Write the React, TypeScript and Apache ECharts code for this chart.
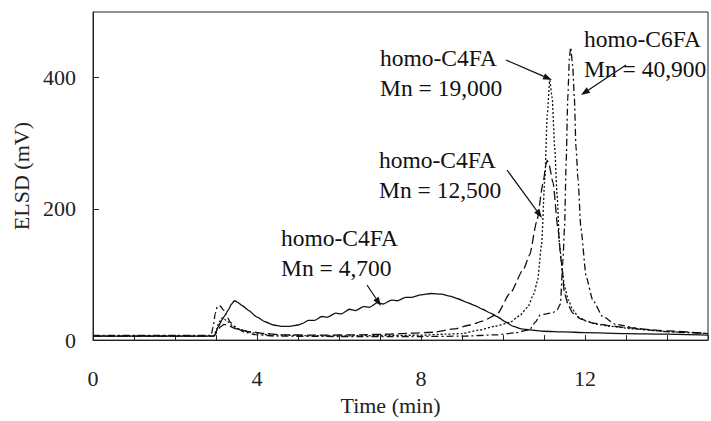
import React, { useEffect, useRef } from "react";
import * as echarts from "echarts";

// Time (min), ELSD (mV)
const c4fa4700: [number, number][] = [
  [0, 6], [2.9, 6], [2.98, 8], [3.05, 20], [3.15, 31], [3.22, 38], [3.3, 46], [3.38, 55], [3.45, 60],
  [3.52, 58], [3.65, 52], [3.8, 45], [4.0, 35], [4.2, 28], [4.4, 23], [4.6, 21], [4.8, 21], [5.0, 23],
  [5.1, 25], [5.25, 30], [5.4, 30], [5.58, 36], [5.72, 35], [5.92, 41], [6.06, 40], [6.26, 47], [6.4, 45],
  [6.6, 51], [6.74, 50], [6.94, 57], [7.08, 55], [7.28, 61], [7.42, 60], [7.62, 65], [7.76, 65], [8.0, 69],
  [8.25, 71], [8.5, 70], [8.7, 67], [8.9, 63], [9.1, 58], [9.3, 53], [9.5, 47], [9.7, 41], [9.85, 36],
  [10.05, 28], [10.25, 21], [10.45, 17], [10.65, 15.5], [11.0, 13.5], [11.5, 12.5], [12.0, 11.5],
  [13.0, 10], [14.0, 9], [15, 7.5],
];

const c4fa12500: [number, number][] = [
  [0, 6], [2.95, 6], [3.02, 12], [3.1, 20], [3.2, 24], [3.3, 22], [3.5, 17], [3.8, 13], [4.2, 10],
  [4.6, 8], [5.5, 7.5], [6.5, 8], [7.2, 9], [7.8, 10.5], [8.3, 12], [8.8, 17], [9.2, 23], [9.5, 29],
  [9.85, 39], [10.17, 71], [10.5, 108], [10.65, 130], [10.82, 180], [10.98, 240], [11.05, 268],
  [11.08, 274], [11.12, 268], [11.22, 240], [11.34, 170], [11.42, 120], [11.5, 71], [11.6, 52],
  [11.7, 41], [11.9, 32], [12.2, 26], [12.6, 22], [13.0, 19], [14.0, 14], [15, 10],
];

const c4fa19000: [number, number][] = [
  [0, 6], [2.95, 6], [3.0, 14], [3.08, 28], [3.15, 34], [3.25, 30], [3.4, 22], [3.6, 16], [3.9, 11],
  [4.3, 8], [5, 7], [6, 6.5], [7, 7], [8, 7.5], [8.6, 9], [9.0, 10], [9.4, 15], [9.8, 21], [10.17, 27],
  [10.4, 37], [10.6, 50], [10.75, 70], [10.84, 90], [10.94, 145], [11.02, 245], [11.08, 344],
  [11.14, 396], [11.2, 369], [11.26, 294], [11.32, 220], [11.38, 145], [11.45, 105], [11.5, 81],
  [11.6, 60], [11.7, 46], [11.85, 35], [12.03, 29], [12.3, 24], [12.6, 21], [13.2, 17], [14, 13], [15, 10],
];

const c6fa40900: [number, number][] = [
  [0, 7], [2.88, 7], [2.93, 20], [2.98, 40], [3.03, 51], [3.1, 52], [3.18, 46], [3.25, 38], [3.35, 27],
  [3.5, 18], [3.7, 12], [4.0, 8], [4.5, 6], [6, 5.5], [8, 5.5], [9, 6], [9.85, 8], [10.3, 11],
  [10.65, 16], [10.8, 28], [10.9, 38], [11.06, 40], [11.22, 42], [11.32, 46], [11.4, 55], [11.46, 120],
  [11.5, 170], [11.54, 270], [11.58, 369], [11.62, 430], [11.65, 446], [11.7, 418], [11.74, 369],
  [11.78, 294], [11.83, 245], [11.9, 170], [12.03, 96], [12.19, 61], [12.43, 36], [12.75, 24],
  [13.4, 16], [14.2, 12], [15, 10],
];

const xTickLabels = [0, 4, 8, 12];

// annotation texts (two lines each) and arrow (pixel layout)
const annotations = [
  { text: "homo-C4FA\nMn = 4,700", left: 281, top: 223, from: [367, 285], to: [381, 306] },
  { text: "homo-C4FA\nMn = 19,000", left: 380, top: 43, from: [506, 60], to: [552, 80] },
  { text: "homo-C4FA\nMn = 12,500", left: 379, top: 145, from: [507, 170], to: [542, 218] },
  { text: "homo-C6FA\nMn = 40,900", left: 584, top: 24, from: [626, 65], to: [581, 95] },
];

const FONT = "Liberation Serif";

function arrowGraphics(from: number[], to: number[]) {
  const dx = to[0] - from[0];
  const dy = to[1] - from[1];
  const len = Math.sqrt(dx * dx + dy * dy);
  const ux = dx / len;
  const uy = dy / len;
  const hl = 9;
  const hw = 3.2;
  const bx = to[0] - ux * hl;
  const by = to[1] - uy * hl;
  return [
    {
      type: "line",
      z: 10,
      shape: { x1: from[0], y1: from[1], x2: bx, y2: by },
      style: { stroke: "#111", lineWidth: 1.2 },
    },
    {
      type: "polygon",
      z: 10,
      shape: {
        points: [
          [to[0], to[1]],
          [bx - uy * hw, by + ux * hw],
          [bx + uy * hw, by - ux * hw],
        ],
      },
      style: { fill: "#111" },
    },
  ];
}

export default function App() {
  const ref = useRef<HTMLDivElement>(null);
  useEffect(() => {
    if (!ref.current) return;
    const chart = echarts.init(ref.current, undefined, { renderer: "svg" });
    const graphics: any[] = [];
    annotations.forEach((a) => graphics.push(...arrowGraphics(a.from, a.to)));
    const titles = annotations.map((a) => ({
      text: a.text,
      left: a.left,
      top: a.top,
      padding: 0,
      textStyle: {
        fontFamily: "Liberation Serif, serif",
        fontSize: 23.5,
        fontWeight: "normal",
        color: "#111",
        lineHeight: 30,
      },
    }));
    const common = { type: "line", symbol: "none", smooth: 0.2, smoothMonotone: "x", z: 3 };
    chart.setOption({
      animation: false,
      backgroundColor: "#fff",
      title: titles,
      grid: {
        left: 93,
        top: 12,
        right: -2,
        bottom: 73,
        show: true,
        borderColor: "#222",
        borderWidth: 1,
      },
      xAxis: {
        type: "value",
        min: 0,
        max: 15,
        interval: 1,
        name: "Time (min)",
        nameLocation: "middle",
        nameGap: 50,
        nameTextStyle: { fontFamily: FONT, fontSize: 22, color: "#222", padding: [0, 20, 0, 0] },
        axisLine: { lineStyle: { color: "#222", width: 1 } },
        axisTick: { inside: true, length: 5, lineStyle: { color: "#222" } },
        axisLabel: {
          margin: 27,
          fontFamily: FONT,
          fontSize: 22,
          color: "#222",
          formatter: (v: number) => (xTickLabels.includes(v) ? String(v) : ""),
        },
        splitLine: { show: false },
      },
      yAxis: {
        type: "value",
        min: 0,
        max: 500,
        interval: 200,
        name: "ELSD (mV)",
        nameLocation: "middle",
        nameGap: 61,
        nameRotate: 90,
        nameTextStyle: { fontFamily: FONT, fontSize: 22, color: "#222" },
        axisLine: { show: true, lineStyle: { color: "#222", width: 1 } },
        axisTick: { show: true, inside: true, length: 6, lineStyle: { color: "#222" } },
        axisLabel: { margin: 17, fontFamily: FONT, fontSize: 22, color: "#222", showMaxLabel: false },
        splitLine: { show: false },
      },
      series: [
        { ...common, name: "homo-C4FA Mn 4,700", data: c4fa4700, lineStyle: { color: "#111", width: 1.3, type: "solid" } },
        { ...common, name: "homo-C4FA Mn 12,500", data: c4fa12500, lineStyle: { color: "#111", width: 1.3, type: [9, 4] } },
        { ...common, name: "homo-C4FA Mn 19,000", data: c4fa19000, lineStyle: { color: "#111", width: 1.3, type: [2, 2] } },
        { ...common, name: "homo-C6FA Mn 40,900", data: c6fa40900, lineStyle: { color: "#111", width: 1.3, type: [7, 3, 2, 3] } },
      ],
      graphic: graphics,
    });
    return () => chart.dispose();
  }, []);
  return (
    <div
      ref={ref}
      style={{ position: "fixed", left: 0, top: 0, width: 711, height: 421, background: "#fff" }}
    />
  );
}
